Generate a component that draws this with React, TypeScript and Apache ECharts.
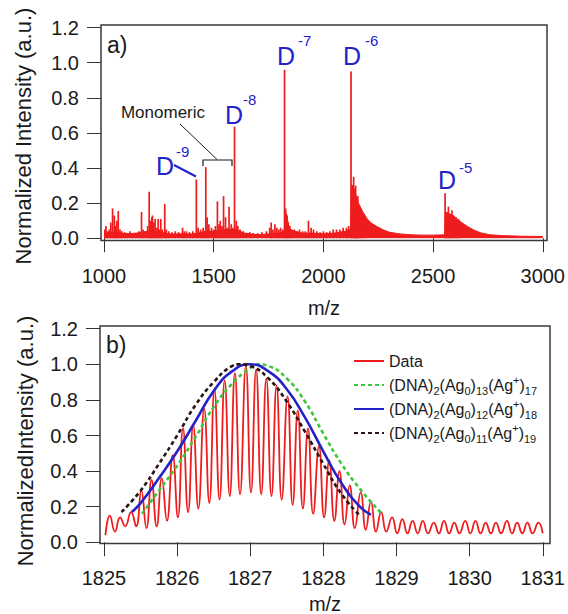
import React, { useEffect, useRef } from "react";
import * as echarts from "echarts";

// ---------- Panel a) : full spectrum ----------
const spectrumXTicks = { min: 1000, max: 3000, step: 500 };
const intensityTicks = { min: 0, max: 1.2, step: 0.2 };

// discrete peaks [m/z, normalized intensity]
const spectrumPeaks: [number, number][] = [
  [1004, 0.05], [1009, 0.07], [1016, 0.04], [1024, 0.05], [1031, 0.09], [1039, 0.17],
  [1047, 0.13], [1053, 0.07], [1058, 0.1], [1065, 0.155], [1073, 0.05], [1082, 0.04],
  [1094, 0.035], [1105, 0.03], [1118, 0.04], [1130, 0.03], [1145, 0.03], [1160, 0.04],
  [1171, 0.15], [1178, 0.05], [1190, 0.04], [1199, 0.07], [1206, 0.265], [1213, 0.1],
  [1218, 0.12], [1221, 0.13], [1227, 0.09], [1233, 0.11], [1240, 0.06], [1247, 0.11],
  [1253, 0.05], [1259, 0.11], [1266, 0.05], [1277, 0.195], [1284, 0.05], [1295, 0.04],
  [1310, 0.035], [1325, 0.04], [1340, 0.035], [1358, 0.06], [1366, 0.04], [1376, 0.04],
  [1390, 0.035], [1405, 0.04], [1421, 0.335], [1429, 0.06], [1440, 0.05], [1452, 0.06],
  [1464, 0.405], [1470, 0.12], [1478, 0.08], [1490, 0.06], [1500, 0.05], [1508, 0.07],
  [1517, 0.21], [1524, 0.08], [1530, 0.1], [1538, 0.07], [1545, 0.24], [1554, 0.12],
  [1562, 0.06], [1570, 0.18], [1580, 0.08], [1587, 0.06], [1595, 0.635], [1603, 0.1],
  [1610, 0.07], [1620, 0.05], [1635, 0.04], [1650, 0.03], [1665, 0.035], [1680, 0.03],
  [1700, 0.03], [1720, 0.035], [1740, 0.04], [1755, 0.06], [1762, 0.09], [1770, 0.05],
  [1779, 0.08], [1788, 0.06], [1797, 0.05], [1805, 0.06], [1815, 0.05], [1823, 0.96],
  [1828, 0.17], [1834, 0.13], [1840, 0.09], [1847, 0.07], [1855, 0.05], [1868, 0.05],
  [1880, 0.04], [1891, 0.05], [1905, 0.04], [1918, 0.04], [1932, 0.1], [1944, 0.06],
  [1955, 0.05], [1970, 0.04], [1985, 0.035], [2000, 0.04], [2015, 0.035], [2030, 0.04],
  [2045, 0.05], [2060, 0.05], [2075, 0.05], [2090, 0.06], [2105, 0.06], [2115, 0.07],
  [2126, 0.95], [2131, 0.3], [2138, 0.35], [2142, 0.28], [2147, 0.3], [2152, 0.22],
  [2157, 0.24], [2163, 0.19], [2170, 0.17], [2180, 0.14], [2190, 0.12],
  [2555, 0.256], [2562, 0.15], [2570, 0.18], [2578, 0.14], [2586, 0.16], [2595, 0.13],
  [2605, 0.12], [2615, 0.11],
];

// upper edge of the dense (unresolved) signal
const spectrumEnvelope: [number, number][] = [
  [1000, 0.03], [1050, 0.035], [1100, 0.025], [1150, 0.03], [1200, 0.04], [1250, 0.04],
  [1300, 0.025], [1350, 0.025], [1400, 0.025], [1430, 0.03], [1460, 0.04], [1500, 0.04],
  [1550, 0.05], [1600, 0.05], [1640, 0.03], [1700, 0.02], [1750, 0.025], [1800, 0.03],
  [1822, 0.04], [1825, 0.15], [1832, 0.14], [1840, 0.08], [1850, 0.05], [1870, 0.04],
  [1900, 0.03], [1950, 0.03], [2000, 0.025], [2050, 0.03], [2100, 0.04], [2124, 0.05],
  [2128, 0.3], [2135, 0.3], [2145, 0.26], [2160, 0.2], [2180, 0.15], [2200, 0.11],
  [2220, 0.085], [2240, 0.07], [2270, 0.05], [2300, 0.035], [2350, 0.025], [2400, 0.02],
  [2450, 0.018], [2500, 0.018], [2553, 0.02], [2556, 0.15], [2570, 0.14], [2590, 0.13],
  [2610, 0.11], [2630, 0.09], [2660, 0.065], [2690, 0.045], [2720, 0.03], [2760, 0.02],
  [2820, 0.015], [2900, 0.012], [3000, 0.01],
];

// ---------- Panel b) : isotope pattern ----------
const isotopeXTicks = { min: 1825, max: 1831, step: 1 };

const measuredData: [number, number][] = [
  [1825.02, 0.04],
  [1825.08, 0.15], [1825.15, 0.06], [1825.22, 0.14], [1825.29, 0.09],
  [1825.37, 0.17], [1825.44, 0.09], [1825.51, 0.29], [1825.58, 0.08],
  [1825.65, 0.35], [1825.72, 0.09], [1825.79, 0.36], [1825.86, 0.12],
  [1825.94, 0.49], [1826.01, 0.14], [1826.08, 0.64], [1826.15, 0.17],
  [1826.22, 0.66], [1826.29, 0.19], [1826.37, 0.75], [1826.44, 0.22],
  [1826.51, 0.86], [1826.58, 0.24], [1826.65, 0.91], [1826.72, 0.26],
  [1826.79, 0.95], [1826.86, 0.27], [1826.94, 0.99], [1827.01, 0.28],
  [1827.08, 0.97], [1827.15, 0.27], [1827.22, 0.92], [1827.29, 0.26],
  [1827.36, 0.88], [1827.43, 0.24], [1827.51, 0.82], [1827.58, 0.21],
  [1827.65, 0.74], [1827.72, 0.19], [1827.79, 0.64], [1827.86, 0.16],
  [1827.94, 0.54], [1828.01, 0.14], [1828.08, 0.46], [1828.15, 0.12],
  [1828.22, 0.4], [1828.29, 0.1], [1828.36, 0.32], [1828.43, 0.08],
  [1828.51, 0.28], [1828.58, 0.07], [1828.65, 0.23], [1828.72, 0.06],
  [1828.79, 0.17], [1828.86, 0.06], [1828.94, 0.14], [1829.01, 0.05],
  [1829.08, 0.13], [1829.15, 0.05], [1829.22, 0.12], [1829.29, 0.05],
  [1829.36, 0.12], [1829.43, 0.05], [1829.51, 0.11], [1829.58, 0.05],
  [1829.65, 0.12], [1829.72, 0.05], [1829.79, 0.11], [1829.86, 0.05],
  [1829.94, 0.12], [1830.01, 0.05], [1830.08, 0.12], [1830.15, 0.05],
  [1830.22, 0.11], [1830.29, 0.05], [1830.36, 0.11], [1830.43, 0.05],
  [1830.51, 0.12], [1830.58, 0.05], [1830.65, 0.11], [1830.72, 0.05],
  [1830.79, 0.11], [1830.86, 0.05], [1830.94, 0.11], [1831.0, 0.05],
];

const simAg13: [number, number][] = [
  [1825.52, 0.16], [1825.75, 0.29], [1826.0, 0.43], [1826.25, 0.59], [1826.5, 0.76],
  [1826.75, 0.89], [1827.0, 0.98], [1827.1, 1.0], [1827.25, 0.99], [1827.5, 0.92],
  [1827.75, 0.79], [1828.0, 0.61], [1828.25, 0.44], [1828.5, 0.3], [1828.8, 0.16],
];
const simAg12: [number, number][] = [
  [1825.38, 0.17], [1825.5, 0.22], [1825.75, 0.36], [1826.0, 0.51], [1826.25, 0.68],
  [1826.5, 0.85], [1826.75, 0.96], [1827.0, 1.0], [1827.25, 0.96], [1827.5, 0.86],
  [1827.75, 0.7], [1828.0, 0.51], [1828.25, 0.33], [1828.5, 0.2], [1828.65, 0.155],
];
const simAg11: [number, number][] = [
  [1825.24, 0.17], [1825.5, 0.29], [1825.75, 0.44], [1826.0, 0.6], [1826.25, 0.77],
  [1826.5, 0.9], [1826.75, 0.99], [1826.85, 1.0], [1827.0, 0.99], [1827.25, 0.92],
  [1827.5, 0.79], [1827.75, 0.62], [1828.0, 0.44], [1828.25, 0.27], [1828.5, 0.15],
];

const seriesNames = [
  "Data",
  "(DNA)2(Ag0)13(Ag+)17",
  "(DNA)2(Ag0)12(Ag+)18",
  "(DNA)2(Ag0)11(Ag+)19",
];
const legendLabels = [
  "Data",
  "(DNA){s|2}(Ag{s|0}){s|13}(Ag{p|+}){s|17}",
  "(DNA){s|2}(Ag{s|0}){s|12}(Ag{p|+}){s|18}",
  "(DNA){s|2}(Ag{s|0}){s|11}(Ag{p|+}){s|19}",
];

const FONT = "'Liberation Sans', Arial, Helvetica, sans-serif";
const RED = "#ee1c1c";
const BLUE = "#2323c8";
const INK = "#1a1a1a";

export default function App() {
  const ref = useRef<HTMLDivElement>(null);

  useEffect(() => {
    if (!ref.current) return;
    const chart = echarts.init(ref.current, undefined, { renderer: "svg" });

    const axisCommon = {
      axisLine: { show: false },
      splitLine: { show: false },
      axisTick: { show: true, length: 14, lineStyle: { color: "#333", width: 1 } },
    };

    const labelFor = (i: number) => legendLabels[i];

    const option: any = {
      animation: false,
      backgroundColor: "#ffffff",
      grid: [
        { left: 104, top: 27.5, width: 440, height: 210.8 },
        { left: 104, top: 328.7, width: 442.4, height: 213.6 },
      ],
      xAxis: [
        {
          type: "value", gridIndex: 0,
          min: spectrumXTicks.min, max: spectrumXTicks.max, interval: spectrumXTicks.step,
          offset: 2, ...axisCommon,
          axisLabel: { fontSize: 20, fontFamily: FONT, color: INK, margin: 26,
            formatter: (v: number) => String(v) },
        },
        {
          type: "value", gridIndex: 1,
          min: isotopeXTicks.min, max: isotopeXTicks.max, interval: isotopeXTicks.step,
          offset: 1, ...axisCommon,
          axisLabel: { fontSize: 20, fontFamily: FONT, color: INK, margin: 25,
            formatter: (v: number) => String(v) },
        },
      ],
      yAxis: [0, 1].map((g) => ({
        type: "value", gridIndex: g,
        min: intensityTicks.min, max: intensityTicks.max, interval: intensityTicks.step,
        offset: g === 0 ? 3 : 4, ...axisCommon,
        axisLabel: {
          fontSize: 20, fontFamily: FONT, color: INK, margin: 22,
          formatter: (v: number) => v.toFixed(1),
        },
      })),
      legend: {
        data: seriesNames,
        orient: "vertical",
        left: 348,
        top: 345,
        itemWidth: 30,
        itemHeight: 14,
        itemGap: 2,
        itemStyle: { opacity: 0 },
        formatter: (name: string) => labelFor(seriesNames.indexOf(name)),
        textStyle: {
          fontSize: 16, fontFamily: FONT, color: INK, lineHeight: 22,
          rich: {
            s: { fontSize: 11, fontFamily: FONT, color: INK, verticalAlign: "bottom" },
            p: { fontSize: 11, fontFamily: FONT, color: INK, verticalAlign: "top" },
          },
        },
      },
      series: [
        {
          type: "line", xAxisIndex: 0, yAxisIndex: 0, name: "spectrum-envelope",
          data: spectrumEnvelope, symbol: "none",
          lineStyle: { color: RED, width: 1 },
          areaStyle: { color: RED, opacity: 1 },
          itemStyle: { color: RED },
        },
        {
          type: "bar", xAxisIndex: 0, yAxisIndex: 0, name: "spectrum-peaks",
          data: spectrumPeaks, barWidth: 1.7,
          itemStyle: { color: RED },
        },
        {
          type: "line", xAxisIndex: 1, yAxisIndex: 1, name: seriesNames[0],
          data: measuredData, symbol: "none", smooth: 0.5,
          lineStyle: { color: RED, width: 1.8 }, itemStyle: { color: RED },
        },
        {
          type: "line", xAxisIndex: 1, yAxisIndex: 1, name: seriesNames[1],
          data: simAg13, symbol: "none", smooth: true,
          lineStyle: { color: "#3cc83c", width: 2.6, type: [4, 3] },
          itemStyle: { color: "#3cc83c" },
        },
        {
          type: "line", xAxisIndex: 1, yAxisIndex: 1, name: seriesNames[2],
          data: simAg12, symbol: "none", smooth: true,
          lineStyle: { color: BLUE, width: 2.6 }, itemStyle: { color: BLUE },
        },
        {
          type: "line", xAxisIndex: 1, yAxisIndex: 1, name: seriesNames[3],
          data: simAg11, symbol: "none", smooth: true,
          lineStyle: { color: "#2a1414", width: 2.6, type: [4, 3] },
          itemStyle: { color: "#2a1414" },
        },
      ],
      graphic: [
        // frames
        { type: "rect", z: 100, shape: { x: 101, y: 25, width: 446, height: 215.5 },
          style: { fill: "none", stroke: "#3a3a3a", lineWidth: 1.5 } },
        { type: "rect", z: 100, shape: { x: 100, y: 326, width: 450, height: 217.5 },
          style: { fill: "none", stroke: "#3a3a3a", lineWidth: 1.5 } },
        // axis titles
        { type: "text", x: 23, y: 136, rotation: Math.PI / 2,
          style: { text: "Normalized Intensity (a.u.)", fontSize: 22, fontFamily: FONT, fill: INK,
            align: "center", verticalAlign: "middle" } },
        { type: "text", x: 25, y: 441, rotation: Math.PI / 2,
          style: { text: "NormalizedIntensity (a.u.)", fontSize: 22, fontFamily: FONT, fill: INK,
            align: "center", verticalAlign: "middle" } },
        { type: "text", x: 324, y: 308,
          style: { text: "m/z", fontSize: 20, fontFamily: FONT, fill: INK, align: "center", verticalAlign: "middle" } },
        { type: "text", x: 325, y: 604,
          style: { text: "m/z", fontSize: 20, fontFamily: FONT, fill: INK, align: "center", verticalAlign: "middle" } },
        // panel letters
        { type: "text", x: 107, y: 45,
          style: { text: "a)", fontSize: 23, fontFamily: FONT, fill: INK, align: "left", verticalAlign: "middle" } },
        { type: "text", x: 106, y: 345,
          style: { text: "b)", fontSize: 23, fontFamily: FONT, fill: INK, align: "left", verticalAlign: "middle" } },
        // D labels
        ...[
          { dx: 286, dy: 56, sx: 298, sy: 40, sup: "-7" },
          { dx: 352, dy: 56, sx: 365, sy: 40, sup: "-6" },
          { dx: 234, dy: 115, sx: 243, sy: 99, sup: "-8" },
          { dx: 165, dy: 166, sx: 176, sy: 151, sup: "-9" },
          { dx: 447, dy: 180, sx: 459, sy: 167, sup: "-5" },
        ].flatMap((d) => [
          { type: "text", x: d.dx, y: d.dy,
            style: { text: "D", fontSize: 25, fontFamily: FONT, fill: BLUE, align: "center", verticalAlign: "middle" } },
          { type: "text", x: d.sx, y: d.sy,
            style: { text: d.sup, fontSize: 15, fontFamily: FONT, fill: BLUE, align: "left", verticalAlign: "middle" } },
        ]),
        { type: "line", shape: { x1: 174, y1: 165, x2: 196, y2: 176.5 },
          style: { stroke: BLUE, lineWidth: 2 } },
        // Monomeric annotation
        { type: "text", x: 163, y: 112,
          style: { text: "Monomeric", fontSize: 17, fontFamily: FONT, fill: INK, align: "center", verticalAlign: "middle" } },
        { type: "line", shape: { x1: 180, y1: 124, x2: 217, y2: 159.5 },
          style: { stroke: INK, lineWidth: 1 } },
        { type: "polyline", shape: { points: [[203, 166], [203, 160], [232, 160], [232, 166]] },
          style: { stroke: INK, lineWidth: 1.2, fill: "none" } },
      ],
    };

    chart.setOption(option);
    return () => chart.dispose();
  }, []);

  return (
    <div
      ref={ref}
      style={{ position: "fixed", left: 0, top: 0, width: 568, height: 614, background: "#fff" }}
    />
  );
}
